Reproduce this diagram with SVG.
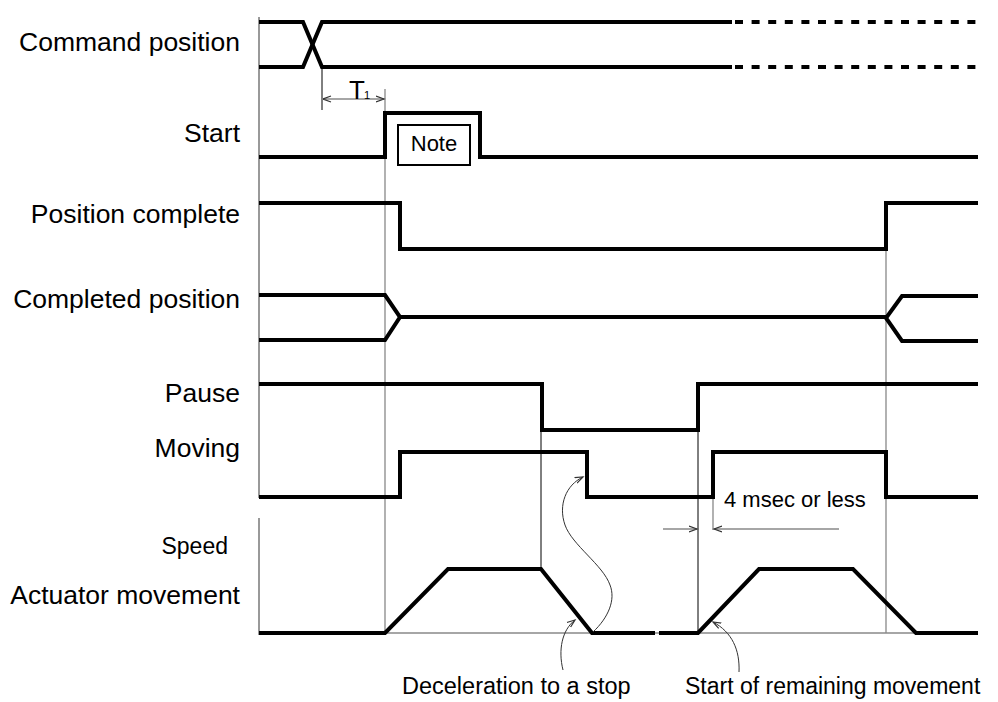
<svg xmlns="http://www.w3.org/2000/svg" width="998" height="702" viewBox="0 0 998 702">
<style>
  text { font-family: "Liberation Sans", Arial, sans-serif; fill: #000; }
  .lbl { font-size: 26.5px; text-anchor: end; }
  .sig { fill: none; stroke: #000; stroke-width: 4; stroke-linejoin: miter; }
  .dash { fill: none; stroke: #000; stroke-width: 4; stroke-dasharray: 8 8.6; }
  .axis { fill: none; stroke: #777; stroke-width: 1.5; }
  .thin { fill: none; stroke: #000; stroke-width: 1; }
  .gray { fill: none; stroke: #888; stroke-width: 1.3; }
  .curve { fill: none; stroke: #333; stroke-width: 1; }
</style>
<defs>
  <marker id="chev" markerWidth="10" markerHeight="8" refX="8" refY="4" orient="auto" markerUnits="userSpaceOnUse">
    <path d="M0,1 L8,4 L0,7" fill="none" stroke="#333" stroke-width="1.2"/>
  </marker>
  <marker id="chevS" markerWidth="10" markerHeight="8" refX="0" refY="4" orient="auto" markerUnits="userSpaceOnUse">
    <path d="M8,1 L0,4 L8,7" fill="none" stroke="#333" stroke-width="1.2"/>
  </marker>
</defs>

<g id="axes">
  <line class="axis" x1="259" y1="17" x2="259" y2="498"/>
  <line class="axis" x1="259" y1="518" x2="259" y2="635"/>
</g>

<g id="labels">
  <text class="lbl" x="240" y="51">Command position</text>
  <text class="lbl" x="240" y="142">Start</text>
  <text class="lbl" x="240" y="223">Position complete</text>
  <text class="lbl" x="240" y="308">Completed position</text>
  <text class="lbl" x="240" y="402">Pause</text>
  <text class="lbl" x="240" y="457">Moving</text>
  <text class="lbl" x="228" y="554" style="font-size:23px">Speed</text>
  <text class="lbl" x="240" y="604">Actuator movement</text>
</g>

<g id="guides">
  <line class="gray" x1="385" y1="89" x2="385" y2="633"/>
  <line class="thin" x1="322" y1="67" x2="322" y2="110"/>
  <line class="thin" x1="541" y1="430" x2="541" y2="569"/>
  <line class="thin" x1="698" y1="430" x2="698" y2="633"/>
  <line class="gray" x1="886" y1="203" x2="886" y2="633"/>
  <line class="gray" x1="713" y1="497" x2="713" y2="530"/>
  <line class="gray" x1="385" y1="633" x2="916" y2="633"/>
</g>

<g id="command-position">
  <path class="sig" d="M259,22 H303 L322,67 H732"/>
  <path class="sig" d="M259,67 H303 L322,22 H732"/>
  <path class="dash" d="M735,22 H978"/>
  <path class="dash" d="M735,67 H978"/>
</g>

<g id="t1">
  <line class="gray" x1="323" y1="99" x2="384" y2="99" marker-start="url(#chevS)" marker-end="url(#chev)"/>
  <text x="349" y="99" style="font-size:26px">T</text>
  <text x="364" y="99" style="font-size:11px">1</text>
</g>

<g id="start">
  <path class="sig" d="M259,157 H385 V113 H480 V157 H978"/>
  <rect x="398" y="125" width="72" height="40" fill="#fff" stroke="#000" stroke-width="2"/>
  <text x="434" y="151" style="font-size:22px" text-anchor="middle">Note</text>
</g>

<g id="position-complete">
  <path class="sig" d="M259,203 H400 V249 H886 V203 H978"/>
</g>

<g id="completed-position">
  <path class="sig" d="M259,295 H385 L400,317 L385,340 H259"/>
  <path class="sig" d="M400,317 H886"/>
  <path class="sig" d="M978,296 H902 L886,318 L902,341 H978"/>
</g>

<g id="pause">
  <path class="sig" d="M259,384 H542 V430 H698 V384 H978"/>
</g>

<g id="moving">
  <path class="sig" d="M259,497 H400 V452 H587 V497 H713 V452 H886 V497 H978"/>
</g>

<g id="actuator">
  <path class="sig" d="M259,633 H385 L448,569 H541 L592,633 H655"/>
  <path class="sig" d="M659,633 H698 L759,569 H853 L916,633 H978"/>
</g>

<g id="four-msec">
  <line class="gray" x1="663" y1="529" x2="697" y2="529" marker-end="url(#chev)"/>
  <line class="gray" x1="839" y1="529" x2="714" y2="529" marker-end="url(#chev)"/>
  <text x="724" y="507" style="font-size:22px">4 msec or less</text>
</g>

<g id="connectors">
  <path class="curve" d="M593,632 C608,618 616,600 610,585 C603,565 572,545 565,525 C558,505 566,485 583,477" marker-end="url(#chev)"/>
  <path class="curve" d="M563,670 C558,650 562,630 575,620" marker-end="url(#chev)"/>
  <path class="curve" d="M739,672 C740,650 732,632 713,622" marker-end="url(#chev)"/>
</g>

<g id="annotations">
  <text x="402" y="694" style="font-size:23.5px">Deceleration to a stop</text>
  <text x="685" y="694" style="font-size:23px">Start of remaining movement</text>
</g>
</svg>
